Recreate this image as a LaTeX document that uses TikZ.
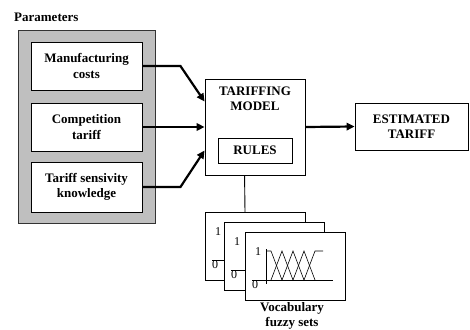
\documentclass[tikz,border=0pt]{standalone}
\usepackage{fontspec}
\setmainfont{Liberation Serif}
\usetikzlibrary{arrows.meta,calc}
\begin{document}
\begin{tikzpicture}[x=1pt,y=-1pt,
  txt/.style={font=\bfseries\fontsize{13}{15.5}\selectfont,align=center,inner sep=0pt},
  box/.style={txt,draw=black,line width=0.9pt,fill=white},
  flow/.style={line width=2.2pt,-{Triangle[length=8pt,width=7.5pt]}},
  link/.style={line width=0.9pt},
  card/.style={draw=black,line width=0.9pt,fill=white,minimum width=100pt,minimum height=68pt,inner sep=0pt},
  num/.style={font=\fontsize{12}{12}\selectfont,inner sep=0pt},
  mf/.style={line width=0.6pt}
]
\useasboundingbox (0,0) rectangle (470,329);

% parameters group
\node[txt,anchor=west] (ptitle) at (14,17) {Parameters};
\node[draw=black!80,fill=gray!50,line width=1pt,minimum width=137pt,minimum height=192pt,inner sep=0pt] (grp) at (86.5,127) {};
\node[box,minimum width=111pt,minimum height=48pt] (b1) at (86.5,66) {Manufacturing\\costs};
\node[box,minimum width=111pt,minimum height=48pt] (b2) at (86.5,127) {Competition\\tariff};
\node[box,minimum width=111pt,minimum height=50pt] (b3) at (86.5,187) {Tariff sensivity\\knowledge};

% tariffing model
\node[draw=black,line width=0.9pt,fill=white,minimum width=100pt,minimum height=96pt,inner sep=0pt] (model) at (255,127) {};
\node[txt] (mtitle) at (255,99) {TARIFFING\\MODEL};
\node[box,minimum width=74pt,minimum height=25pt] (rules) at (255,150.5) {RULES};

% estimated tariff
\node[box,minimum width=113pt,minimum height=47pt] (est) at (411.5,126.5) {ESTIMATED\\TARIFF};

% arrows
\draw[flow] (b1.east) -- ++(38,0) -- ($(model.north west)+(0,23)$);
\draw[flow] (b2.east) -- (model.west);
\draw[flow] (b3.east) -- ++(38,0) -- ($(model.south west)+(0,-25)$);
\draw[flow] (model.east) -- (est.west);

% link to vocabulary
\coordinate (tap) at ($(model.south west)+(40,0)$);
\coordinate (cardtop) at (245,212);
\draw[link] (tap) -- (cardtop);

% fuzzy set cards
\foreach \i/\L/\T in {1/205/212, 2/224/222, 3/245/232} {
  \node[card,anchor=north west] (card\i) at (\L,\T) {};
  \begin{scope}[shift={(\L,\T)}]
    \node[num] (one\i) at (13,20) {1};
    \node[num] (zero\i) at (10,53) {0};
    \draw[mf] (21,17) -- (21,52);
    \draw[mf] (7,48) -- (88,48);
    \draw[mf] (21,19) -- (26,19) -- (37,48);
    \draw[mf] (26,48) -- (37,19) -- (48,48);
    \draw[mf] (37,48) -- (48,19) -- (59,48);
    \draw[mf] (48,48) -- (59,19) -- (70,48);
    \draw[mf] (59,48) -- (70,19) -- (78,19);
  \end{scope}
}
\node[txt] (voc) at (292,316) {Vocabulary\\fuzzy sets};
\end{tikzpicture}
\end{document}
